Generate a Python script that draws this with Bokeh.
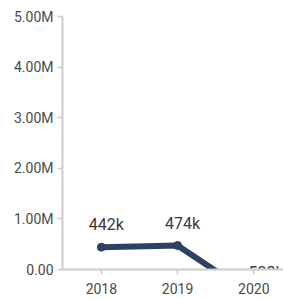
from bokeh.plotting import figure
from bokeh.models import ColumnDataSource, Range1d, CustomJSTickFormatter, FixedTicker
from bokeh.core.properties import value
from bokeh.embed import file_html
from bokeh.resources import INLINE

years = [2018, 2019, 2020]
values = [442000, 474000, -528000]
labels = ["442k", "474k", "-528k"]
y_ticks = [0, 1000000, 2000000, 3000000, 4000000, 5000000]

FONT = "Roboto"
LINE_COLOR = "#2c4264"

p = figure(width=283, height=300, output_backend="svg", toolbar_location=None,
           x_range=Range1d(2017.49, 2020.39), y_range=Range1d(0, 5000000),
           min_border_left=62, min_border_right=0, min_border_top=16, min_border_bottom=31)
p.outline_line_color = None
p.grid.visible = False
p.background_fill_color = "white"
p.border_fill_color = "white"

src = ColumnDataSource(dict(x=years, y=values, label=labels))
p.line("x", "y", source=src, line_color=LINE_COLOR, line_width=6, line_cap="round", line_join="round")
p.scatter("x", "y", source=src, size=8, fill_color=LINE_COLOR, line_color=LINE_COLOR)

pos = ColumnDataSource(dict(x=[x for x, v in zip(years, values) if v >= 0],
                            y=[v for v in values if v >= 0],
                            label=[l for l, v in zip(labels, values) if v >= 0]))
neg = ColumnDataSource(dict(x=[x for x, v in zip(years, values) if v < 0],
                            y=[0 for v in values if v < 0],
                            label=[l for l, v in zip(labels, values) if v < 0]))
p.text("x", "y", text="label", source=pos, text_font=value(FONT), text_font_size="16px",
       text_color="#3a3a3a", text_align="center", text_baseline="bottom", x_offset=5, y_offset=-13)
p.text("x", "y", text="label", source=neg, text_font=value(FONT), text_font_size="16px",
       text_color="#3a3a3a", text_align="center", text_baseline="middle", x_offset=10, y_offset=3)

p.xaxis.ticker = FixedTicker(ticks=years)
p.yaxis.ticker = FixedTicker(ticks=y_ticks)
p.yaxis.formatter = CustomJSTickFormatter(code="""
    if (tick == 0) { return "0.00"; }
    return (tick / 1000000).toFixed(2) + "M";
""")
for ax in (p.xaxis, p.yaxis):
    ax.axis_line_color = "#cccccc"
    ax.axis_line_width = 2
    ax.major_tick_line_color = "#cccccc"
    ax.major_tick_line_width = 1.5
    ax.major_tick_out = 5
    ax.major_tick_in = 0
    ax.minor_tick_line_color = None
    ax.major_label_text_font = FONT
    ax.major_label_text_font_size = "14px"
    ax.major_label_text_color = "#4a4a4a"
p.yaxis.major_label_standoff = 4
p.xaxis.major_label_standoff = 8

open("out.html", "w").write(file_html(p, INLINE))
